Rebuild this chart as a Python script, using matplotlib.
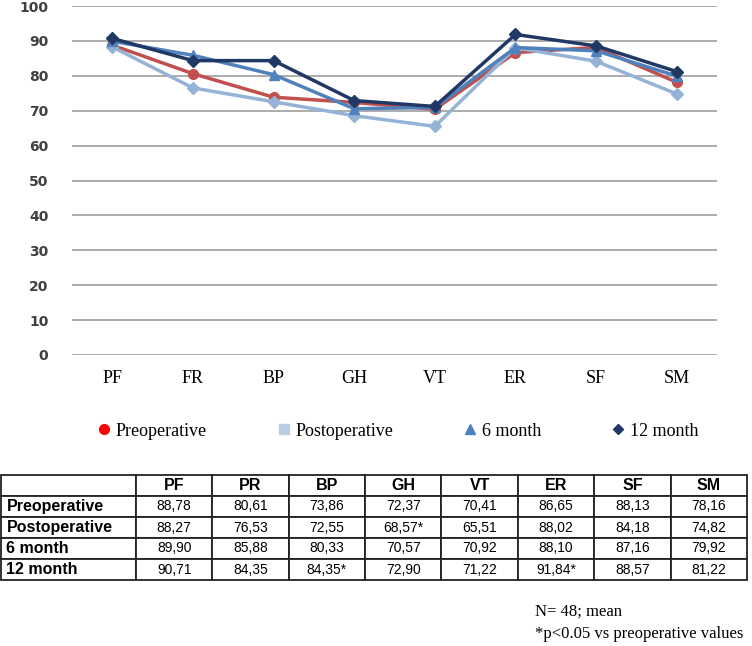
import matplotlib.pyplot as plt
from matplotlib.lines import Line2D

# datos SF-36
dominios = ["PF", "FR", "BP", "GH", "VT", "ER", "SF", "SM"]
dominios_tabla = ["PF", "PR", "BP", "GH", "VT", "ER", "SF", "SM"]
grupos = ["Preoperative", "Postoperative", "6 month", "12 month"]

preoperative = [88.78, 80.61, 73.86, 72.37, 70.41, 86.65, 88.13, 78.16]
postoperative = [88.27, 76.53, 72.55, 68.57, 65.51, 88.02, 84.18, 74.82]
mes6 = [89.90, 85.88, 80.33, 70.57, 70.92, 88.10, 87.16, 79.92]
mes12 = [90.71, 84.35, 84.35, 72.90, 71.22, 91.84, 88.57, 81.22]

# significativos p<0.05 (fila, columna)
signif = [(1, 3), (3, 2), (3, 5)]

colores = ["#C0504D", "#95B3D7", "#4F81BD", "#1F3864"]
colores_leyenda = ["#FF0000", "#B9CDE5", "#4F81BD", "#1F3864"]
marcadores = ["o", "D", "^", "D"]
marcadores_leyenda = ["o", "s", "^", "D"]

serif = ["Liberation Serif", "DejaVu Serif"]
sans = ["Liberation Sans", "DejaVu Sans"]

fig = plt.figure(figsize=(7.52, 6.46), dpi=100)

ax = fig.add_axes([72 / 752, 1 - 355 / 646, 645 / 752, 349 / 646])
x = list(range(len(dominios)))
series = [preoperative, postoperative, mes6, mes12]
for i, serie in enumerate(series):
    ax.plot(x, serie, color=colores[i], marker=marcadores[i], lw=2.5,
            markersize=7 if marcadores[i] != "D" else 6, zorder=3 + i)

ax.set_ylim(0, 100)
ax.set_xlim(-0.5, 7.5)
ax.set_yticks(range(0, 101, 10))
ax.yaxis.grid(True, color="#A6A6A6", lw=1.3)
ax.set_axisbelow(True)
for s in ax.spines.values():
    s.set_visible(False)
ax.tick_params(length=0)
ax.tick_params(axis="y", pad=17, labelsize=10, labelcolor="#404040")
for lab in ax.get_yticklabels():
    lab.set_fontweight("bold")
ax.set_xticks(x)
ax.set_xticklabels(dominios, family=serif, fontsize=13)
ax.tick_params(axis="x", pad=11)

handles = [Line2D([], [], ls="none", marker=marcadores_leyenda[i],
                  color=colores_leyenda[i], markersize=7 if i != 3 else 5.5)
           for i in range(4)]
fig.legend(handles, grupos, loc="center", bbox_to_anchor=(398 / 752, 1 - 431 / 646),
           ncol=4, frameon=False, prop={"family": serif, "size": 13},
           handlelength=0.7, handletextpad=0.3, columnspacing=3.9)

# tabla
tax = fig.add_axes([1 / 752, 1 - 580 / 646, 746 / 752, 105 / 646])
tax.axis("off")
celdas = [[""] + dominios_tabla]
for i, g in enumerate(grupos):
    fila = [g]
    for j, v in enumerate(series[i]):
        txt = f"{v:.2f}".replace(".", ",")
        if (i, j) in signif:
            txt += "*"
        fila.append(txt)
    celdas.append(fila)
ancho0 = 135 / 746
ancho = (1 - ancho0) / 8
tabla = tax.table(cellText=celdas, bbox=[0, 0, 1, 1],
                  colWidths=[ancho0] + [ancho] * 8, cellLoc="center")
tabla.auto_set_font_size(False)
for (r, c), cell in tabla.get_celld().items():
    cell.set_edgecolor("#222222")
    cell.set_linewidth(1.3)
    t = cell.get_text()
    t.set_family(sans)
    if c == 0:
        cell._loc = "left"
        cell.PAD = 0.04
        t.set_ha("left")
        t.set_fontsize(11.5)
        t.set_fontweight("bold")
    elif r == 0:
        t.set_fontsize(11.5)
        t.set_fontweight("bold")
    else:
        t.set_fontsize(10)

fig.text(535 / 752, 1 - 612 / 646, "N= 48; mean", family=serif, fontsize=12,
         va="center")
fig.text(535 / 752, 1 - 634 / 646, "*p<0.05 vs preoperative values", family=serif,
         fontsize=12, va="center")

fig.savefig("out.png", dpi=100)
